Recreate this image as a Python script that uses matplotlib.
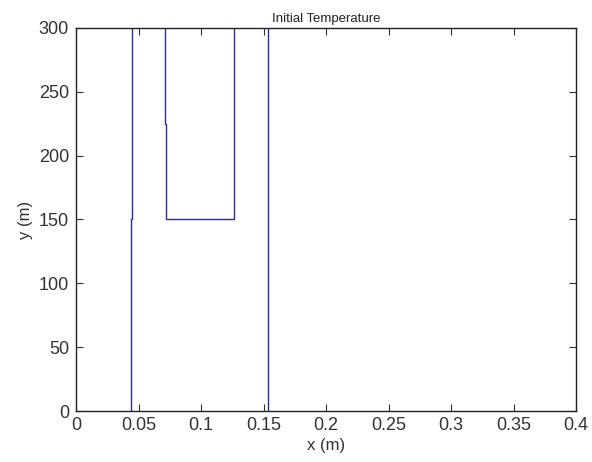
import matplotlib
matplotlib.use('Agg')
import matplotlib.pyplot as plt

plt.rcParams['font.family'] = ['Liberation Sans', 'DejaVu Sans']

# contour lines of the initial temperature field
line1_x = [0.0438, 0.0438, 0.0446, 0.0446]
line1_y = [0, 150, 150, 300]

box_x = [0.0710, 0.0710, 0.0720, 0.0720, 0.1266, 0.1266]
box_y = [300, 225, 225, 150, 150, 300]

line3_x = [0.1538, 0.1538]
line3_y = [0, 300]

xticks = [0, 0.05, 0.1, 0.15, 0.2, 0.25, 0.3, 0.35, 0.4]
xlabels = ['0', '0.05', '0.1', '0.15', '0.2', '0.25', '0.3', '0.35', '0.4']
yticks = [0, 50, 100, 150, 200, 250, 300]

fig = plt.figure(figsize=(5.92, 4.62), dpi=100)
ax = fig.add_axes([76/592, 51/462, 500/592, 383/462])

col = '#2c2c98'
ax.plot(line1_x, line1_y, color=col, lw=1)
ax.plot(box_x, box_y, color=col, lw=1)
ax.plot(line3_x, line3_y, color=col, lw=1)

ax.set_xlim(0, 0.4)
ax.set_ylim(0, 300)
ax.set_xticks(xticks)
ax.set_xticklabels(xlabels)
ax.set_yticks(yticks)
ax.tick_params(direction='in', labelsize=13, length=5, top=True, right=True,
               colors='#333333', labelcolor='#333333')
ax.tick_params(axis='x', pad=4)
ax.tick_params(axis='y', pad=5)
for s in ax.spines.values():
    s.set_color('#222222')
    s.set_linewidth(1)

ax.set_xlabel('x (m)', fontsize=12, color='#333333', labelpad=3)
ax.set_ylabel('y (m)', fontsize=12, color='#333333', labelpad=4)
ax.set_title('Initial Temperature', fontsize=9.5, color='#222222', pad=4)

fig.savefig('out.png', dpi=100)
